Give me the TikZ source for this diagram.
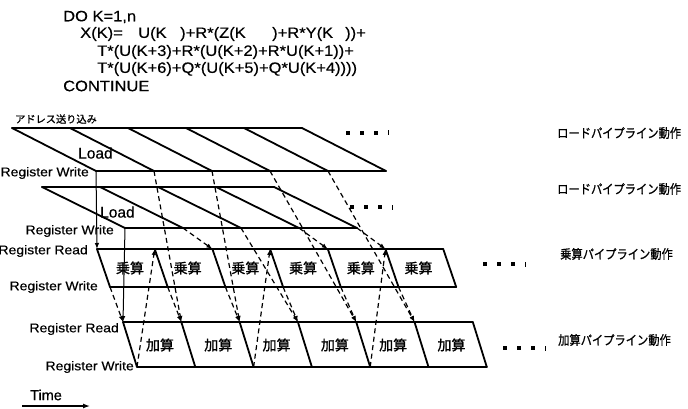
\documentclass[tikz,border=0pt]{standalone}
\usepackage{fontspec}
\setmainfont{Liberation Sans}[FakeBold=0.4]
\newfontfamily\codefont[FakeStretch=1.1,FakeBold=0.4]{Liberation Sans}
\newfontfamily\jpn[FakeBold=1]{Noto Sans CJK JP}
\newfontfamily\jpnn[FakeStretch=0.88,FakeBold=0.8]{Noto Sans CJK JP}
\usetikzlibrary{arrows.meta}
\begin{document}
\begin{tikzpicture}[x=1pt,y=-1pt,
  stage/.style={line width=1.8pt, line cap=round, line join=round},
  dep/.style={line width=1.2pt, dash pattern=on 5pt off 3.5pt, -{Latex[length=6pt,width=4.5pt]}},
  solidarr/.style={line width=1pt, -{Latex[length=6pt,width=4.5pt]}},
  code/.style={anchor=west, inner sep=0pt, font=\codefont\fontsize{15}{17}\selectfont},
  reg/.style={anchor=east, inner sep=0pt, font=\codefont\fontsize{12.7}{15}\selectfont},
  loadlbl/.style={anchor=west, inner sep=0pt, font=\fontsize{15.5}{18}\selectfont},
  cell/.style={inner sep=0pt, font=\jpn\fontsize{14}{16}\selectfont},
  side/.style={anchor=west, inner sep=0pt, font=\jpnn\fontsize{12.8}{15}\selectfont},
  dotsq/.style={fill=black, draw=none}]
\useasboundingbox (0,0) rectangle (688,409);

% ---- code ----
\node[code] (c1) at (63,17) {DO K=1,n};
\node[code] (c2a) at (80,34) {X(K)=};
\node[code] (c2b) at (138,34) {U(K};
\node[code] (c2c) at (180,34) {)+R*(Z(K};
\node[code] (c2d) at (272,34) {)+R*Y(K};
\node[code] (c2e) at (345,34) {))+};
\node[code] (c3) at (97,52) {T*(U(K+3)+R*(U(K+2)+R*U(K+1))+};
\node[code] (c4) at (97,69) {T*(U(K+6)+Q*(U(K+5)+Q*U(K+4))))};
\node[code] (c5) at (63,86) {CONTINUE};

% ---- coordinates ----
\foreach \k in {0,...,5}{
  \coordinate (L1t\k) at ({12+58*\k},128);
  \coordinate (L1b\k) at ({96+58*\k},171);
}
\foreach \k in {0,...,4}{
  \coordinate (L2t\k) at ({42+58*\k},187);
  \coordinate (L2b\k) at ({125+58*\k},228);
}
\foreach \k in {0,...,6}{
  \coordinate (Mt\k) at ({97+57.7*\k},249);
  \coordinate (Mb\k) at ({110+57.7*\k},287);
  \coordinate (At\k) at ({123+58.3*\k},322);
  \coordinate (Ab\k) at ({137+58.3*\k},367);
}

% ---- load pipeline 1 ----
\draw[stage] (L1t0) -- (L1t5);
\draw[stage] (L1b0) -- (L1b5);
\foreach \k in {0,...,5}{ \draw[stage] (L1t\k) -- (L1b\k); }
% ---- load pipeline 2 ----
\draw[stage] (L2t0) -- (L2t4);
\draw[stage] (L2b0) -- (L2b4);
\foreach \k in {0,...,4}{ \draw[stage] (L2t\k) -- (L2b\k); }
% ---- multiply pipeline ----
\draw[stage] (Mt0) -- (Mt6);
\draw[stage] (Mb0) -- (Mb6);
\foreach \k in {0,...,6}{ \draw[stage] (Mt\k) -- (Mb\k); }
% ---- add pipeline ----
\draw[stage] (At0) -- (At6);
\draw[stage] (Ab0) -- (Ab6);
\foreach \k in {0,...,6}{ \draw[stage] (At\k) -- (Ab\k); }

% ---- cell labels ----
\foreach \k in {0,...,5}{
  \node[cell] (mc\k) at ({130+57.7*\k},268) {乗算};
  \node[cell] (ac\k) at ({160+58.3*\k},345) {加算};
}

% ---- left labels ----
\node[anchor=west, inner sep=0pt, font=\jpn\fontsize{10.2}{12}\selectfont] (addr) at (15,119) {アドレス送り込み};
\node[loadlbl] (ld1) at (78,153) {Load};
\node[reg] (rw1) at (89,173) {Register Write};
\node[loadlbl] (ld2) at (100,212) {Load};
\node[reg] (rw2) at (114,231) {Register Write};
\node[reg] (rr3) at (88,251) {Register Read};
\node[reg] (rw3) at (98,287) {Register Write};
\node[reg] (rr4) at (119,329) {Register Read};
\node[reg] (rw4) at (134,367) {Register Write};

% ---- right labels ----
\node[side] (s1) at (557,133) {ロードパイプライン動作};
\node[side] (s2) at (557,189) {ロードパイプライン動作};
\node[side] (s3) at (560,254) {乗算パイプライン動作};
\node[side] (s4) at (558,340) {加算パイプライン動作};

% ---- continuation dots ----
\foreach \x/\y [count=\i] in {348/133, 352/207, 485/264, 505/348}{
  \fill[dotsq] (\x-2,\y-2) rectangle (\x+2,\y+2);
  \fill[dotsq] (\x+12,\y-2) rectangle (\x+16,\y+2);
  \fill[dotsq] (\x+26,\y-2) rectangle (\x+30,\y+2);
  \fill[dotsq] (\x+40,\y-2.5) rectangle (\x+41,\y+2.5);
}

% ---- solid transfer arrows ----
\draw[solidarr] (L1b0) -- (Mt0);
\draw[solidarr] (L2b0) -- (At0);

% ---- dependencies ----
\draw[dep] (L1b1) -- (At1);
\draw[dep] (L1b2) -- (At2);
\draw[dep] (L1b3) -- (At4);
\draw[dep] (L1b4) -- (At5);
\draw[dep] (L2b1) -- (Mt2);
\draw[dep] (L2b2) -- (At3);
\draw[dep] (L2b3) -- (Mt4);
\draw[dep] (L2b4) -- (Mt5);
\foreach \k in {0,...,5}{ \draw[dep] (Mb\k) -- (At\k); }
\draw[dep] (Ab0) -- (Mt1);
\draw[dep] (Ab2) -- (Mt3);
\draw[dep] (Ab4) -- (Mt5);

% ---- time arrow ----
\node[anchor=west, inner sep=0pt, font=\fontsize{14.5}{17}\selectfont] (time) at (30,395) {Time};
\coordinate (t0) at (22,406);
\coordinate (t1) at (90,406);
\draw[line width=1.3pt, -{Latex[length=7pt,width=5pt]}] (t0) -- (t1);
\end{tikzpicture}
\end{document}
